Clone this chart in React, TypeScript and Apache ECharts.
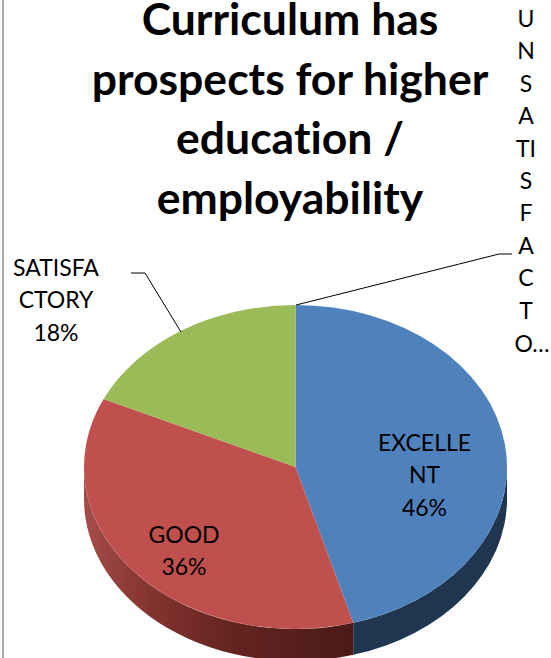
import React, { useEffect, useRef } from "react";
import * as echarts from "echarts";

const titleLines = ["Curriculum has", "prospects for higher", "education /", "employability"];
const categories = ["EXCELLENT", "GOOD", "SATISFACTORY", "UNSATISFACTORY"];
const values = [45.6, 36.3, 18.1, 0];
const topColors = ["#4f81bd", "#c0504d", "#9bbb59", "#8064a2"];
const sideStops = [
  [[0, "#1f3550"], [1, "#1f3550"]],
  [[0, "#a54c49"], [0.25, "#83332f"], [0.55, "#642421"], [1, "#4b1a17"]],
  [[0, "#6f8a3d"], [1, "#6f8a3d"]],
  [[0, "#5c4778"], [1, "#5c4778"]],
];
const wrappedNames = [["EXCELLE", "NT"], ["GOOD"], ["SATISFA", "CTORY"]];
const verticalLetters = ["U", "N", "S", "A", "TI", "S", "F", "A", "C", "T"];
const verticalTail = "O…";

const CX = 295.5, CY = 467, RX = 211.5, RY = 162, DEPTH = 32;
const FONT = "Lato, 'Open Sans', sans-serif";
const total = values.reduce((a, b) => a + b, 0);
const pct = (v: number) => `${Math.round((v / total) * 100)}%`;

const pt = (t: number, dy = 0) => [CX + RX * Math.sin(t), CY - RY * Math.cos(t) + dy];

function renderItem(params: any, api: any) {
  const i = params.dataIndex;
  const v = api.value(0);
  if (!v) return { type: "group", children: [] };
  const before = values.slice(0, i).reduce((a, b) => a + b, 0);
  const a1 = (before / total) * 2 * Math.PI;
  const a2 = ((before + v) / total) * 2 * Math.PI;
  const children: any[] = [];
  const s1 = Math.max(a1, Math.PI / 2);
  const s2 = Math.min(a2, (3 * Math.PI) / 2);
  if (s2 > s1) {
    const p = pt(s1), q = pt(s2), q2 = pt(s2, DEPTH), p2 = pt(s1, DEPTH);
    children.push({
      type: "path",
      silent: true,
      shape: {
        pathData: `M${p[0]} ${p[1]}A${RX} ${RY} 0 0 1 ${q[0]} ${q[1]}L${q2[0]} ${q2[1]}A${RX} ${RY} 0 0 0 ${p2[0]} ${p2[1]}Z`,
      },
      style: {
        fill: new echarts.graphic.LinearGradient(
          Math.min(p[0], q[0]), 0, Math.max(p[0], q[0]), 0,
          sideStops[i].map(([offset, color]) => ({ offset, color })) as any,
          true
        ),
      },
    });
  }
  const p = pt(a1), q = pt(a2);
  const large = a2 - a1 > Math.PI ? 1 : 0;
  children.push({
    type: "path",
    silent: true,
    shape: {
      pathData: `M${CX} ${CY}L${p[0]} ${p[1]}A${RX} ${RY} 0 ${large} 1 ${q[0]} ${q[1]}Z`,
    },
    style: { fill: topColors[i] },
  });
  return { type: "group", children };
}

const labelAt = [
  { x: 424.5, y: 442 },
  { x: 184, y: 534 },
  { x: 56, y: 267 },
];
const LABEL_LH = 32.4;
const LABEL_SIZE = 23;

export default function App() {
  const ref = useRef<HTMLDivElement>(null);
  useEffect(() => {
    document.body.style.margin = "0";
    const chart = echarts.init(ref.current!, undefined, { renderer: "svg" });
    const textEls: any[] = [];
    wrappedNames.forEach((lines, i) => {
      textEls.push({
        type: "text",
        z: 100,
        x: labelAt[i].x,
        y: labelAt[i].y - LABEL_LH / 2,
        silent: true,
        style: {
          text: [...lines, pct(values[i])].join("\n"),
          font: `${LABEL_SIZE}px ${FONT}`,
          lineHeight: LABEL_LH,
          align: "center",
          verticalAlign: "top",
          fill: "#000",
        },
      });
    });
    textEls.push({
      type: "text",
      z: 100,
      x: 526,
      y: 18 - LABEL_LH / 2,
      silent: true,
      style: {
        text: verticalLetters.join("\n"),
        font: `${LABEL_SIZE}px ${FONT}`,
        lineHeight: LABEL_LH,
        align: "center",
        verticalAlign: "top",
        fill: "#000",
      },
    });
    textEls.push({
      type: "text",
      z: 100,
      x: 532,
      y: 343 - LABEL_LH / 2,
      silent: true,
      style: {
        text: verticalTail,
        font: `${LABEL_SIZE}px ${FONT}`,
        lineHeight: LABEL_LH,
        align: "center",
        verticalAlign: "top",
        fill: "#000",
      },
    });
    chart.setOption({
      animation: false,
      backgroundColor: "#ffffff",
      title: {
        text: titleLines.join("\n"),
        left: 285,
        top: -17,
        textAlign: "center",
        textStyle: {
          fontFamily: FONT,
          fontWeight: "bold",
          fontSize: 44.5,
          lineHeight: 59.5,
          color: "#000",
        },
      },
      series: [
        {
          type: "custom",
          coordinateSystem: "none",
          silent: true,
          renderItem,
          data: categories.map((name, i) => ({ name, value: [values[i]] })),
        },
      ],
      graphic: {
        elements: [
          {
            type: "rect",
            silent: true,
            shape: { x: 2, y: 0, width: 2, height: 658 },
            style: { fill: "#a8a8a8" },
          },
          {
            type: "polyline",
            silent: true,
            z: 100,
            shape: { points: [[296, 305], [499, 254], [512, 254]] },
            style: { stroke: "#000", lineWidth: 1, fill: "none" },
          },
          {
            type: "polyline",
            silent: true,
            z: 100,
            shape: { points: [[131, 273], [145, 273], [181, 332]] },
            style: { stroke: "#000", lineWidth: 1, fill: "none" },
          },
          ...textEls,
        ],
      },
    });
    return () => chart.dispose();
  }, []);
  return (
    <>
      <style>{"svg text { font-variant-ligatures: none; }"}</style>
      <div ref={ref} style={{ position: "absolute", left: 0, top: 0, width: 551, height: 658 }} />
    </>
  );
}
